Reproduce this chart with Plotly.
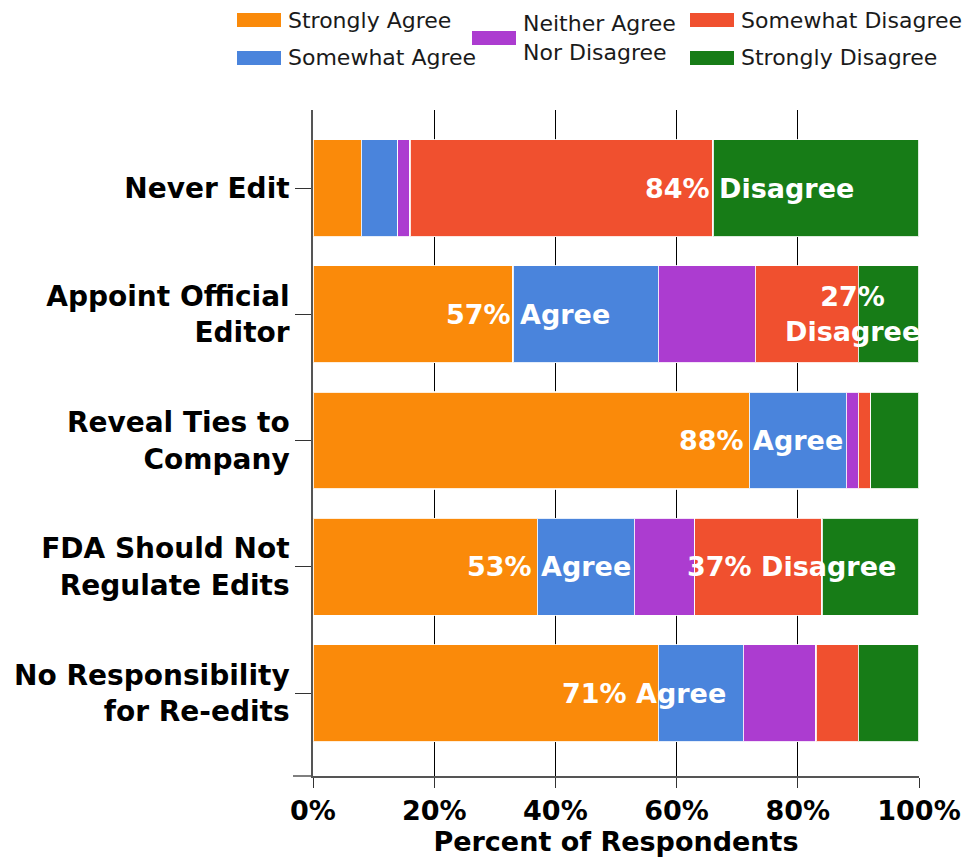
import plotly.graph_objects as go

categories = ["Never Edit", "Appoint Official<br>Editor", "Reveal Ties to<br>Company",
              "FDA Should Not<br>Regulate Edits", "No Responsibility<br>for Re-edits"]
series_names = ["Strongly Agree", "Somewhat Agree", "Neither Agree Nor Disagree",
                "Somewhat Disagree", "Strongly Disagree"]
legend_labels = ["Strongly Agree", "Somewhat Agree", "Neither Agree<br>Nor Disagree",
                 "Somewhat Disagree", "Strongly Disagree"]
strongly_agree = [8, 33, 72, 37, 57]
somewhat_agree = [6, 24, 16, 16, 14]
neither = [2, 16, 2, 10, 12]
somewhat_disagree = [50, 17, 2, 21, 7]
strongly_disagree = [34, 10, 8, 16, 10]
colors = ["#FA8A0A", "#4A84DC", "#AC3CD0", "#F0502F", "#177C17"]

summary_text = ["84% Disagree", "57% Agree", "27%<br>Disagree", "88% Agree", "53% Agree",
                "37% Disagree", "71% Agree"]
summary_x = [72.0, 35.5, 89.0, 74.0, 39.0, 79.0, 54.7]
summary_cat = [0, 1, 1, 2, 3, 3, 4]

values = [strongly_agree, somewhat_agree, neither, somewhat_disagree, strongly_disagree]

FONT = "DejaVu Sans"
# plot area in screen pixels
PL, PR, PT, PB = 313, 919, 110, 776
W, H = 970, 858


def px_x(px):
    return (px - PL) / (PR - PL)


def px_y(py):
    return (PB - py) / (PB - PT)


fig = go.Figure()
for name, vals, col in zip(series_names, values, colors):
    fig.add_trace(go.Bar(
        y=categories, x=vals, name=name, orientation="h",
        marker=dict(color=col, line=dict(color="rgba(255,255,255,0.85)", width=1.2)),
        showlegend=False, hoverinfo="x+name",
    ))

for t, xv, ci in zip(summary_text, summary_x, summary_cat):
    fig.add_annotation(x=xv, y=categories[ci], xref="x", yref="y", text=t,
                       showarrow=False,
                       font=dict(family=FONT, size=27, color="white", weight="bold"))

# legend drawn manually to mimic the wide swatches and three-column layout
legend_swatch_x = [237, 237, 472, 690, 690]
legend_center_y = [20, 58, 38, 20, 58]
for i in range(len(series_names)):
    sx = legend_swatch_x[i]
    cy = legend_center_y[i]
    fig.add_shape(type="rect", xref="paper", yref="paper",
                  x0=px_x(sx), x1=px_x(sx + 44), y0=px_y(cy + 7), y1=px_y(cy - 7),
                  fillcolor=colors[i], line=dict(width=0))
    fig.add_annotation(x=px_x(sx + 49), y=px_y(cy), xref="paper", yref="paper",
                       xanchor="left", yanchor="middle", align="left",
                       text=legend_labels[i], showarrow=False,
                       font=dict(family=FONT, size=22, color="#1a1a1a"))

fig.update_layout(
    barmode="stack",
    bargap=0.232,
    width=W, height=H,
    margin=dict(l=PL, r=W - PR, t=PT, b=H - PB),
    plot_bgcolor="white", paper_bgcolor="white",
    font=dict(family=FONT, size=27, color="black"),
    showlegend=False,
    xaxis=dict(range=[0, 100], dtick=20, ticksuffix="%", showgrid=True,
               gridcolor="black", gridwidth=1, showline=True, linecolor="#555",
               linewidth=1.5, ticks="outside", ticklen=10, tickcolor="#333",
               automargin=False,
               tickfont=dict(family=FONT, size=27, color="black", weight="bold"),
               title=dict(text="Percent of Respondents", standoff=6,
                          font=dict(family=FONT, size=27, color="black", weight="bold")),
               zeroline=False),
    yaxis=dict(type="category", categoryorder="array", categoryarray=categories,
               range=[4.657, -0.618], showline=True, linecolor="#555", linewidth=1.5,
               ticks="outside", ticklen=16, tickcolor="#333", automargin=False,
               tickfont=dict(family=FONT, size=28, color="black", weight="bold"),
               ticklabelstandoff=0),
)
fig.add_shape(type="line", xref="paper", yref="paper", x0=px_x(293), x1=0, y0=0, y1=0,
              line=dict(color="#555", width=1.5))

fig.write_html(
    "out.html",
    config={"displayModeBar": False},
    post_script="document.body.style.margin='0';document.body.style.overflow='hidden';",
)
